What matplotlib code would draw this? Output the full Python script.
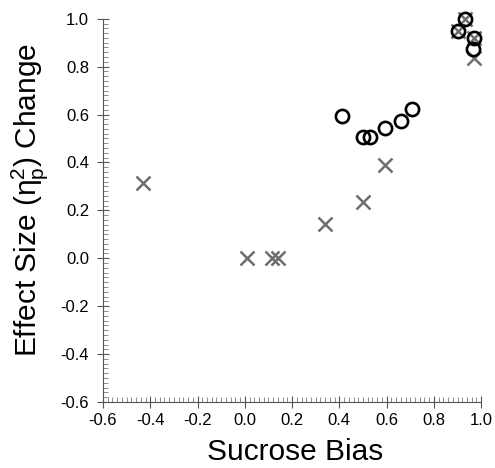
import numpy as np
import matplotlib
matplotlib.use("Agg")
import matplotlib.pyplot as plt
from matplotlib.ticker import MultipleLocator, FormatStrFormatter

plt.rcParams['font.family'] = ['Liberation Sans', 'DejaVu Sans']
plt.rcParams['mathtext.fontset'] = 'custom'
plt.rcParams['mathtext.rm'] = 'Liberation Sans'
plt.rcParams['mathtext.it'] = 'Liberation Sans'
plt.rcParams['axes.unicode_minus'] = False

# sucrose bias vs effect size change
x_cross = [-0.43, 0.01, 0.115, 0.14, 0.34, 0.50, 0.595, 0.90, 0.93, 0.97, 0.97]
y_cross = [0.315, 0.0, 0.0, 0.0, 0.143, 0.235, 0.39, 0.95, 1.0, 0.92, 0.835]

x_circ = [0.41, 0.50, 0.53, 0.595, 0.66, 0.707, 0.90, 0.93, 0.97, 0.965]
y_circ = [0.595, 0.505, 0.505, 0.543, 0.571, 0.625, 0.95, 1.0, 0.92, 0.872]

fig = plt.figure(figsize=(4.95, 4.68), dpi=100)
ax = fig.add_axes([0.208, 0.141, 0.764, 0.819])

ax.plot(x_cross, y_cross, 'x', color='#6e6e6e', markersize=9.5, markeredgewidth=1.8,
        linestyle='none', clip_on=False)
ax.plot(x_circ, y_circ, 'o', markerfacecolor='none', markeredgecolor='black',
        markersize=9.5, markeredgewidth=1.9, linestyle='none', clip_on=False)

ax.set_xlim(-0.6, 1.0)
ax.set_ylim(-0.6, 1.0)
for s in ['top', 'right']:
    ax.spines[s].set_visible(False)
for s in ['left', 'bottom']:
    ax.spines[s].set_color('#555555')
    ax.spines[s].set_linewidth(0.8)

ax.xaxis.set_major_locator(MultipleLocator(0.2))
ax.yaxis.set_major_locator(MultipleLocator(0.2))
ax.xaxis.set_minor_locator(MultipleLocator(0.02))
ax.yaxis.set_minor_locator(MultipleLocator(0.02))
ax.xaxis.set_major_formatter(FormatStrFormatter('%.1f'))
ax.yaxis.set_major_formatter(FormatStrFormatter('%.1f'))
ax.tick_params(which='major', direction='inout', length=8, width=0.8, color='#555555',
               labelsize=12, pad=4)
ax.tick_params(axis='y', which='major', pad=6)
ax.tick_params(which='minor', direction='in', length=3.5, width=0.6, color='#777777')

ax.set_xlabel('Sucrose Bias', fontsize=21.5, labelpad=8)
ax.xaxis.set_label_coords(0.508, -0.095)
ax.set_ylabel(r'Effect Size ($\mathregular{\eta_p^2}$) Change', fontsize=21.5)
ax.yaxis.set_label_coords(-0.14, 0.528)

plt.savefig('out.png', dpi=100)
